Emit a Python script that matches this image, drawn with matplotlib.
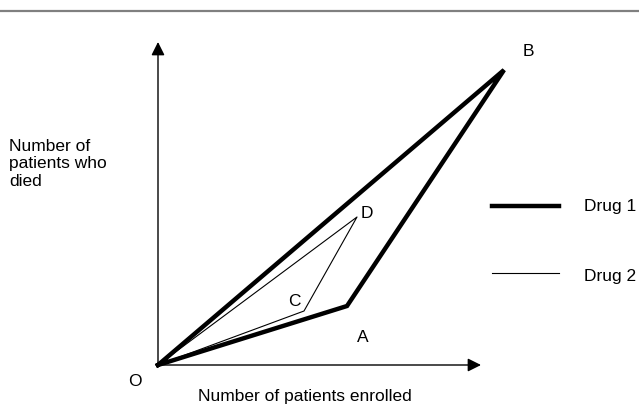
import matplotlib.pyplot as plt

plt.rcParams['font.family'] = ['Liberation Sans', 'DejaVu Sans']

# points (patients enrolled, patients who died), arbitrary units
drug1_x = [0, 18.9, 34.6, 0]   # O -> A -> B -> O
drug1_y = [0, 5.9, 29.5, 0]
drug2_x = [0, 14.6, 19.9, 0]   # O -> C -> D -> O
drug2_y = [0, 5.4, 14.8, 0]

point_names = ["O", "A", "B", "C", "D"]
point_x = [0, 18.9, 34.6, 14.6, 19.9]
point_y = [0, 5.9, 29.5, 5.4, 14.8]
label_off = [(-2.3, -1.7), (1.6, -3.2), (2.4, 1.9), (-1.0, 1.0), (1.0, 0.4)]

fig = plt.figure(figsize=(6.39, 4.04), dpi=100)
ax = fig.add_axes([0, 0, 1, 1])
ax.set_xlim(-15.8, 48.1)
ax.set_ylim(-3.9, 36.5)
ax.axis("off")

# top rule
ax.plot([-15.8, 48.1], [35.4, 35.4], color="#808080", lw=1.6)

# axes with arrows
arrow = dict(arrowstyle="-|>", color="black", lw=1.0, mutation_scale=20,
             shrinkA=0, shrinkB=0)
ax.annotate("", xy=(32.3, 0), xytext=(0, 0), arrowprops=arrow)
ax.annotate("", xy=(0, 32.3), xytext=(0, 0), arrowprops=arrow)

ax.plot(drug1_x, drug1_y, color="black", lw=3.2, solid_joinstyle="miter")
ax.plot(drug2_x, drug2_y, color="black", lw=0.8)

for name, x, y, (dx, dy) in zip(point_names, point_x, point_y, label_off):
    ax.text(x + dx, y + dy, name, fontsize=12.5, ha="center", va="center")

ax.text(-14.9, 22.6, "Number of\npatients who\ndied", fontsize=12.5,
        ha="left", va="top", linespacing=1.2)
ax.text(14.7, -3.1, "Number of patients enrolled", fontsize=12.5,
        ha="center", va="center")

# legend
ax.plot([33.4, 40.1], [15.9, 15.9], color="black", lw=3.2)
ax.plot([33.4, 40.1], [9.2, 9.2], color="black", lw=0.8)
ax.text(42.6, 15.9, "Drug 1", fontsize=12.5, va="center")
ax.text(42.6, 8.8, "Drug 2", fontsize=12.5, va="center")

fig.savefig("out.png", dpi=100)
